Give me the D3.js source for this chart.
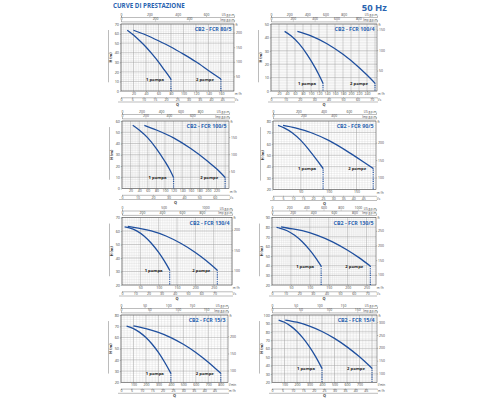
<!DOCTYPE html>
<html>
<head>
<meta charset="utf-8">
<script src="https://cdn.jsdelivr.net/npm/d3@7"></script>
<style>
  body { margin: 0; background: #fff; }
  svg { display: block; }
  text { font-family: "Open Sans", "DejaVu Sans", sans-serif; }
</style>
</head>
<body>
<div id="chart"></div>
<script>
// pump models, one panel each
const models = ["CB2 - FCR 80/5", "CB2 - FCR 100/4", "CB2 - FCR 100/5", "CB2 - FCR 90/5",
                "CB2 - FCR 130/4", "CB2 - FCR 130/5", "CB2 - FCR 15/3", "CB2 - FCR 15/4"];
const flowUnit = ["m³/h", "m³/h", "m³/h", "m³/h", "m³/h", "m³/h", "l/min", "l/min"];
const flowUnit2 = ["l/s", "l/s", "l/s", "l/s", "l/s", "l/s", "m³/h", "m³/h"];
const qMax = [181, 265, 249, 185, 300, 275, 858, 840];
const qStep = [20, 20, 20, 50, 50, 50, 100, 100];
const qMinor = [4, 5, 4, 5, 5, 5, 25, 25];
const hRange = [[0, 70], [0, 50], [0, 60], [20, 80], [20, 70], [20, 90], [20, 80], [20, 100]];

// curve 1 pompa
const q1 = [
  [10, 20, 30, 40, 50, 60, 70, 80],
  [34, 50, 70, 90, 110, 120, 130],
  [25, 40, 60, 80, 100, 110, 120],
  [9, 20, 35, 50, 65, 80, 90],
  [7, 20, 40, 60, 80, 100, 115, 130],
  [12, 20, 40, 60, 80, 100, 115, 130],
  [45, 100, 150, 200, 250, 300, 350, 400],
  [53, 100, 150, 200, 250, 300, 350, 400]
];
const h1 = [
  [63.5, 58.5, 52.5, 46, 38.5, 30.5, 21.5, 12.5],
  [44.5, 41.2, 35.3, 27.4, 17.6, 11.9, 5.8],
  [56.2, 52, 45, 35.5, 24, 17.5, 9.8],
  [76.2, 74, 69.5, 63, 54.5, 45, 38.4],
  [63, 62.3, 60.1, 56.3, 50.9, 44.1, 38, 31],
  [79.8, 79.1, 76.3, 71.5, 64.8, 56.1, 48.4, 39.6],
  [70, 67.8, 64.5, 59.9, 53.9, 46.6, 37.9, 28],
  [94, 91.4, 86.8, 80.4, 72.2, 62.1, 50.3, 36.6]
];
// curve 2 pompe
const q2 = [
  [20, 40, 60, 80, 100, 120, 140, 160],
  [66, 100, 140, 180, 220, 240, 260],
  [52, 80, 120, 160, 200, 220, 240],
  [18, 40, 70, 100, 130, 160, 180],
  [16, 40, 80, 120, 160, 200, 230, 260],
  [24, 40, 80, 120, 160, 200, 230, 260],
  [100, 200, 300, 400, 500, 600, 700, 800],
  [106, 200, 300, 400, 500, 600, 700, 800]
];
const h2 = [
  [63.5, 58.5, 52.5, 46, 38.5, 30.5, 21.5, 12.5],
  [44.5, 41.2, 35.3, 27.4, 17.6, 11.9, 5.8],
  [56.2, 52, 45, 35.5, 24, 17.5, 9.8],
  [76.2, 74, 69.5, 63, 54.5, 45, 38.4],
  [63.5, 62.3, 60.1, 56.3, 50.9, 44.1, 38, 31],
  [80.3, 79.1, 76.3, 71.5, 64.8, 56.1, 48.4, 39.6],
  [70.3, 67.8, 64.5, 59.9, 53.9, 46.6, 37.9, 28],
  [94, 91.4, 86.8, 80.4, 72.2, 62.1, 50.3, 36.6]
];

// panel plot areas on the page
const panels = [
  {x: 121, y: 24, w: 113, h: 67},
  {x: 271, y: 24, w: 106, h: 67},
  {x: 122, y: 121, w: 107, h: 67.5},
  {x: 273, y: 121, w: 103, h: 68.5},
  {x: 122, y: 217.5, w: 110, h: 67.5},
  {x: 272, y: 217.5, w: 104, h: 67.5},
  {x: 121, y: 315, w: 107, h: 67.3},
  {x: 272, y: 315, w: 105, h: 67.3}
];

const blue = "#1f4f9e";
const titleBlue = "#2a63b0";
const axisGrey = "#555";
const fmt = d3.format("d");

const svg = d3.select("#chart").append("svg")
    .attr("width", 500).attr("height", 400);

svg.append("text")
    .attr("x", 113).attr("y", 7.6)
    .attr("font-size", 6.2).attr("font-weight", "bold")
    .attr("fill", titleBlue)
    .text("CURVE DI PRESTAZIONE");

svg.append("text")
    .attr("x", 387).attr("y", 11)
    .attr("text-anchor", "end")
    .attr("font-size", 9.5).attr("font-weight", "bold")
    .attr("fill", titleBlue)
    .text("50 Hz");

function styleAxis(sel, fs) {
    sel.select(".domain").attr("stroke", axisGrey).attr("stroke-width", 0.4);
    sel.selectAll(".tick line").attr("stroke", axisGrey).attr("stroke-width", 0.35);
    sel.selectAll(".tick text").attr("font-size", fs).attr("fill", "#444")
        .attr("font-family", "'Open Sans', sans-serif");
}

models.forEach((name, i) => {
    const p = panels[i];
    const g = svg.append("g").attr("transform", `translate(${p.x},${p.y})`);
    const lmin = flowUnit[i] === "l/min";

    const x = d3.scaleLinear().domain([0, qMax[i]]).range([0, p.w]);
    const y = d3.scaleLinear().domain(hRange[i]).range([p.h, 0]);

    // derived unit scales
    const usK = lmin ? 0.26417 : 4.4029;
    const impK = lmin ? 0.21997 : 3.6662;
    const q2K = lmin ? 0.06 : 1 / 3.6;
    const xUs = d3.scaleLinear().domain([0, qMax[i] * usK]).range([0, p.w]);
    const xImp = d3.scaleLinear().domain([0, qMax[i] * impK]).range([0, p.w]);
    const xSec = d3.scaleLinear().domain([0, qMax[i] * q2K]).range([0, p.w]);
    const yFt = d3.scaleLinear().domain(hRange[i].map(v => v * 3.2808)).range([p.h, 0]);

    // background + grid
    g.append("rect").attr("width", p.w).attr("height", p.h).attr("fill", "#fff");

    const vMinor = d3.range(0, qMax[i] + 1e-6, qMinor[i]);
    const vMajor = d3.range(0, qMax[i] + 1e-6, qStep[i]);
    const hMinor = d3.range(hRange[i][0], hRange[i][1] + 1e-6, 2);
    const hMajor = d3.range(hRange[i][0], hRange[i][1] + 1e-6, 10);

    g.append("g").selectAll("line").data(vMinor).join("line")
        .attr("x1", d => x(d)).attr("x2", d => x(d))
        .attr("y1", 0).attr("y2", p.h)
        .attr("stroke", "#cfcfcf").attr("stroke-width", 0.3);
    g.append("g").selectAll("line").data(hMinor).join("line")
        .attr("x1", 0).attr("x2", p.w)
        .attr("y1", d => y(d)).attr("y2", d => y(d))
        .attr("stroke", "#cfcfcf").attr("stroke-width", 0.3);
    g.append("g").selectAll("line").data(vMajor).join("line")
        .attr("x1", d => x(d)).attr("x2", d => x(d))
        .attr("y1", 0).attr("y2", p.h)
        .attr("stroke", "#9a9a9a").attr("stroke-width", 0.4);
    g.append("g").selectAll("line").data(hMajor).join("line")
        .attr("x1", 0).attr("x2", p.w)
        .attr("y1", d => y(d)).attr("y2", d => y(d))
        .attr("stroke", "#9a9a9a").attr("stroke-width", 0.4);

    g.append("rect").attr("width", p.w).attr("height", p.h)
        .attr("fill", "none").attr("stroke", "#444").attr("stroke-width", 0.5);

    // left axis H (m)
    const yl = g.append("g")
        .call(d3.axisLeft(y).tickValues(hMajor).tickFormat(fmt).tickSize(1.2).tickPadding(0.8));
    styleAxis(yl, 3.8);
    yl.select(".domain").remove();

    g.append("line")
        .attr("x1", -12.5).attr("x2", -12.5)
        .attr("y1", p.h * 0.09).attr("y2", p.h * 0.87)
        .attr("stroke", axisGrey).attr("stroke-width", 0.4);
    g.append("text")
        .attr("transform", `translate(-8.6,${p.h * 0.5}) rotate(-90)`)
        .attr("text-anchor", "middle")
        .attr("font-size", 3.8).attr("font-weight", "bold").attr("fill", "#333")
        .text("H (m)");

    // right axis ft
    const yr = g.append("g").attr("transform", `translate(${p.w},0)`)
        .call(d3.axisRight(yFt).ticks(4).tickFormat(fmt).tickSize(1.2).tickPadding(0.8));
    styleAxis(yr, 3.4);
    yr.select(".domain").remove();
    yr.selectAll(".tick").filter(d => yFt(d) < 5 || yFt(d) > p.h - 4).remove();
    g.append("text")
        .attr("x", p.w + 1.5).attr("y", 1.5)
        .attr("font-size", 3.2).attr("fill", "#444")
        .text("ft");

    // bottom primary axis
    const xb = g.append("g").attr("transform", `translate(0,${p.h})`)
        .call(d3.axisBottom(x).tickValues(vMajor.filter(d => d > 0 && x(d) < p.w - 5))
            .tickFormat(fmt).tickSize(1).tickPadding(0.4));
    styleAxis(xb, 3.5);
    xb.select(".domain").remove();
    g.append("text")
        .attr("x", p.w + 0.8).attr("y", p.h + 4)
        .attr("font-size", 3.1).attr("fill", "#444")
        .text(flowUnit[i]);

    // bottom secondary axis
    const xs = g.append("g").attr("transform", `translate(0,${p.h + 6.3})`)
        .call(d3.axisBottom(xSec).ticks(9).tickFormat(fmt).tickSize(1).tickPadding(0.4));
    styleAxis(xs, 3.5);
    xs.selectAll(".tick").filter(d => xSec(d) > p.w - 5).remove();
    g.append("text")
        .attr("x", p.w + 0.8).attr("y", p.h + 10)
        .attr("font-size", 3.1).attr("fill", "#444")
        .text(flowUnit2[i]);

    // Q label
    g.append("line")
        .attr("x1", -3).attr("x2", p.w + 1)
        .attr("y1", p.h + 11).attr("y2", p.h + 11)
        .attr("stroke", axisGrey).attr("stroke-width", 0.4);
    g.append("text")
        .attr("x", p.w * 0.5).attr("y", p.h + 15)
        .attr("text-anchor", "middle")
        .attr("font-size", 3.8).attr("font-weight", "bold").attr("fill", "#333")
        .text("Q");

    // top axes: US gpm and Imp gpm
    const xt1 = g.append("g").attr("transform", `translate(0,-7)`)
        .call(d3.axisTop(xUs).ticks(4).tickFormat(fmt).tickSize(1).tickPadding(0.4));
    styleAxis(xt1, 3.4);
    xt1.selectAll(".tick").filter(d => xUs(d) > p.w - 17).remove();
    g.append("text")
        .attr("x", p.w + 1).attr("y", -8)
        .attr("text-anchor", "end")
        .attr("font-size", 3).attr("fill", "#444")
        .text("US g.p.m.");

    const xt2 = g.append("g").attr("transform", `translate(0,-2.6)`)
        .call(d3.axisTop(xImp).ticks(4).tickFormat(fmt).tickSize(1).tickPadding(0.4));
    styleAxis(xt2, 3.4);
    xt2.selectAll(".tick").filter(d => xImp(d) > p.w - 17).remove();
    g.append("text")
        .attr("x", p.w + 1).attr("y", -3.4)
        .attr("text-anchor", "end")
        .attr("font-size", 3).attr("fill", "#444")
        .text("Imp g.p.m.");

    // curves
    const line = d3.line().x(d => x(d[0])).y(d => y(d[1])).curve(d3.curveMonotoneX);
    const curves = [
        {q: q1[i], h: h1[i], label: "1 pompa"},
        {q: q2[i], h: h2[i], label: "2 pompe"}
    ];
    curves.forEach(c => {
        const pts = c.q.map((q, k) => [q, c.h[k]]);
        g.append("path")
            .attr("d", line(pts))
            .attr("fill", "none")
            .attr("stroke", blue)
            .attr("stroke-width", 1.3);
        const last = pts[pts.length - 1];
        g.append("line")
            .attr("x1", x(last[0])).attr("x2", x(last[0]))
            .attr("y1", y(last[1])).attr("y2", p.h)
            .attr("stroke", blue).attr("stroke-width", 1.2)
            .attr("stroke-dasharray", "0.9,0.9");
        g.append("text")
            .attr("x", x(last[0]) - 7).attr("y", Math.min(y(last[1]) + 1.5, p.h - 4))
            .attr("text-anchor", "end")
            .attr("font-size", 4.2).attr("font-weight", "bold").attr("fill", "#222")
            .text(c.label);
    });

    // model title
    g.append("text")
        .attr("x", p.w - 2.5).attr("y", 7)
        .attr("text-anchor", "end")
        .attr("font-size", 5.3).attr("font-weight", "bold")
        .attr("fill", titleBlue)
        .text(name);
});
</script>
</body>
</html>
